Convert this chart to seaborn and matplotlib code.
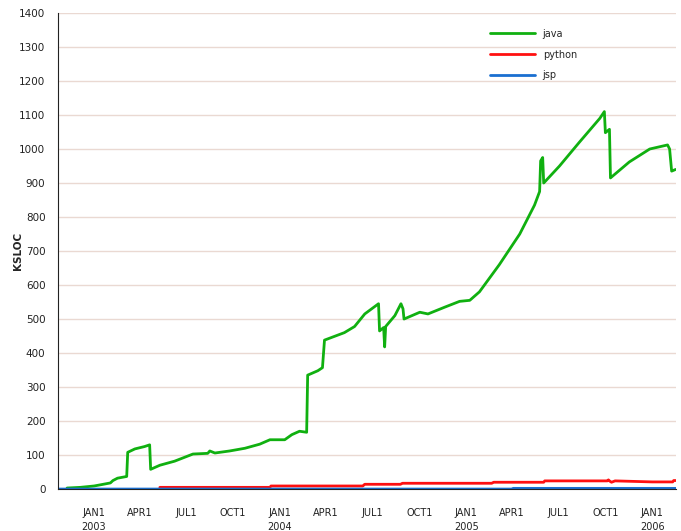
import matplotlib
matplotlib.use("Agg")
import matplotlib.pyplot as plt
import numpy as np
import pandas as pd
import seaborn as sns

# java KSLOC over time
java_dates = [
    "2002-11-10", "2002-12-06", "2003-01-02", "2003-01-20", "2003-02-03", "2003-02-08",
    "2003-02-17", "2003-03-07", "2003-03-09", "2003-03-23", "2003-04-11", "2003-04-21",
    "2003-04-23", "2003-05-11", "2003-06-09", "2003-07-15", "2003-08-13", "2003-08-17",
    "2003-08-27", "2003-09-25", "2003-10-25", "2003-11-23", "2003-12-13", "2004-01-11",
    "2004-01-25", "2004-02-09", "2004-02-23", "2004-02-25", "2004-03-16", "2004-03-25",
    "2004-03-29", "2004-05-07", "2004-05-27", "2004-06-16", "2004-07-13", "2004-07-15",
    "2004-07-23", "2004-07-25", "2004-07-27", "2004-08-14", "2004-08-26", "2004-08-30",
    "2004-09-01", "2004-10-02", "2004-10-18", "2004-11-20", "2004-12-19", "2005-01-08",
    "2005-01-27", "2005-03-07", "2005-04-16", "2005-05-15", "2005-05-25", "2005-05-27",
    "2005-05-31", "2005-06-02", "2005-07-03", "2005-08-11", "2005-09-20", "2005-09-29",
    "2005-10-01", "2005-10-09", "2005-10-11", "2005-11-17", "2005-12-27", "2006-01-31",
    "2006-02-04", "2006-02-08", "2006-02-16",
]
java_values = [
    3, 5, 9, 14, 18, 25,
    32, 37, 108, 118, 125, 130,
    58, 70, 82, 103, 105, 112,
    106, 112, 120, 132, 145, 145,
    160, 170, 167, 335, 348, 357,
    438, 460, 478, 515, 545, 465,
    475, 418, 478, 510, 545, 530,
    500, 520, 515, 535, 552, 555,
    580, 660, 750, 835, 875, 965,
    975, 900, 950, 1020, 1090, 1110,
    1048, 1058, 915, 962, 1000, 1012,
    1000, 935, 940,
]

# python KSLOC over time
python_dates = [
    "2003-05-11", "2003-12-13", "2003-12-15", "2004-06-12", "2004-06-16", "2004-08-25",
    "2004-08-29", "2005-02-20", "2005-02-24", "2005-06-02", "2005-06-04", "2005-10-05",
    "2005-10-07", "2005-10-09", "2005-10-13", "2005-10-20", "2006-01-01", "2006-02-10",
    "2006-02-12", "2006-02-16",
]
python_values = [
    5, 5, 9, 9, 14, 14,
    17, 17, 20, 20, 24, 24,
    27, 24, 20, 24, 21, 21,
    25, 25,
]

# jsp KSLOC over time
jsp_dates = ["2002-10-23", "2005-04-01", "2005-04-03", "2006-02-16"]
jsp_values = [0, 0, 2, 2]

series_names = ["java", "python", "jsp"]
series_colors = ["#10b010", "#ff1010", "#1a6fd0"]

frames = []
for name, d, v in zip(series_names,
                      [java_dates, python_dates, jsp_dates],
                      [java_values, python_values, jsp_values]):
    frames.append(pd.DataFrame({"date": pd.to_datetime(d), "ksloc": v, "lang": name}))
df = pd.concat(frames, ignore_index=True)

sns.set_style("white")
plt.rcParams["font.family"] = ["DejaVu Sans"]

fig = plt.figure(figsize=(6.81, 5.31), dpi=100)
ax = fig.add_axes([0.085, 0.079, 0.908, 0.8965])

sns.lineplot(
    data=df, x="date", y="ksloc", hue="lang",
    palette=dict(zip(series_names, series_colors)),
    estimator=None, sort=True, linewidth=2, ax=ax,
)

ax.set_ylim(0, 1400)
ax.set_xlim(pd.Timestamp("2002-10-23"), pd.Timestamp("2006-02-17"))
ax.set_yticks(np.arange(0, 1401, 100))
ax.yaxis.grid(True, color="#ead9d2", linewidth=1)
ax.xaxis.grid(False)
ax.set_axisbelow(True)

ticks = pd.date_range("2003-01-01", "2006-01-01", freq="QS")
labels = []
for t in ticks:
    mon = {1: "JAN1", 4: "APR1", 7: "JUL1", 10: "OCT1"}[t.month]
    labels.append(f"{mon}\n{t.year}" if t.month == 1 else mon)
ax.set_xticks(ticks)
ax.set_xticklabels(labels, fontsize=7, color="#222222", linespacing=1.5)
ax.tick_params(axis="x", direction="out", length=8, width=1, color="#444444", pad=6)
ax.tick_params(axis="y", direction="out", length=5, width=1, color="#444444",
               labelsize=7.5, labelcolor="#222222", pad=4)

for side in ["top", "right"]:
    ax.spines[side].set_visible(False)
ax.spines["left"].set_color("#222222")
ax.spines["bottom"].set_color("#222222")

ax.set_xlabel("")
ax.set_ylabel("KSLOC", fontsize=7.5, fontweight="bold", labelpad=-3)

ax.legend(frameon=False, loc="upper left", bbox_to_anchor=(0.685, 0.985),
          fontsize=7, handlelength=4.6, labelspacing=1.1, handletextpad=0.8)

fig.savefig("out.png", dpi=100)
